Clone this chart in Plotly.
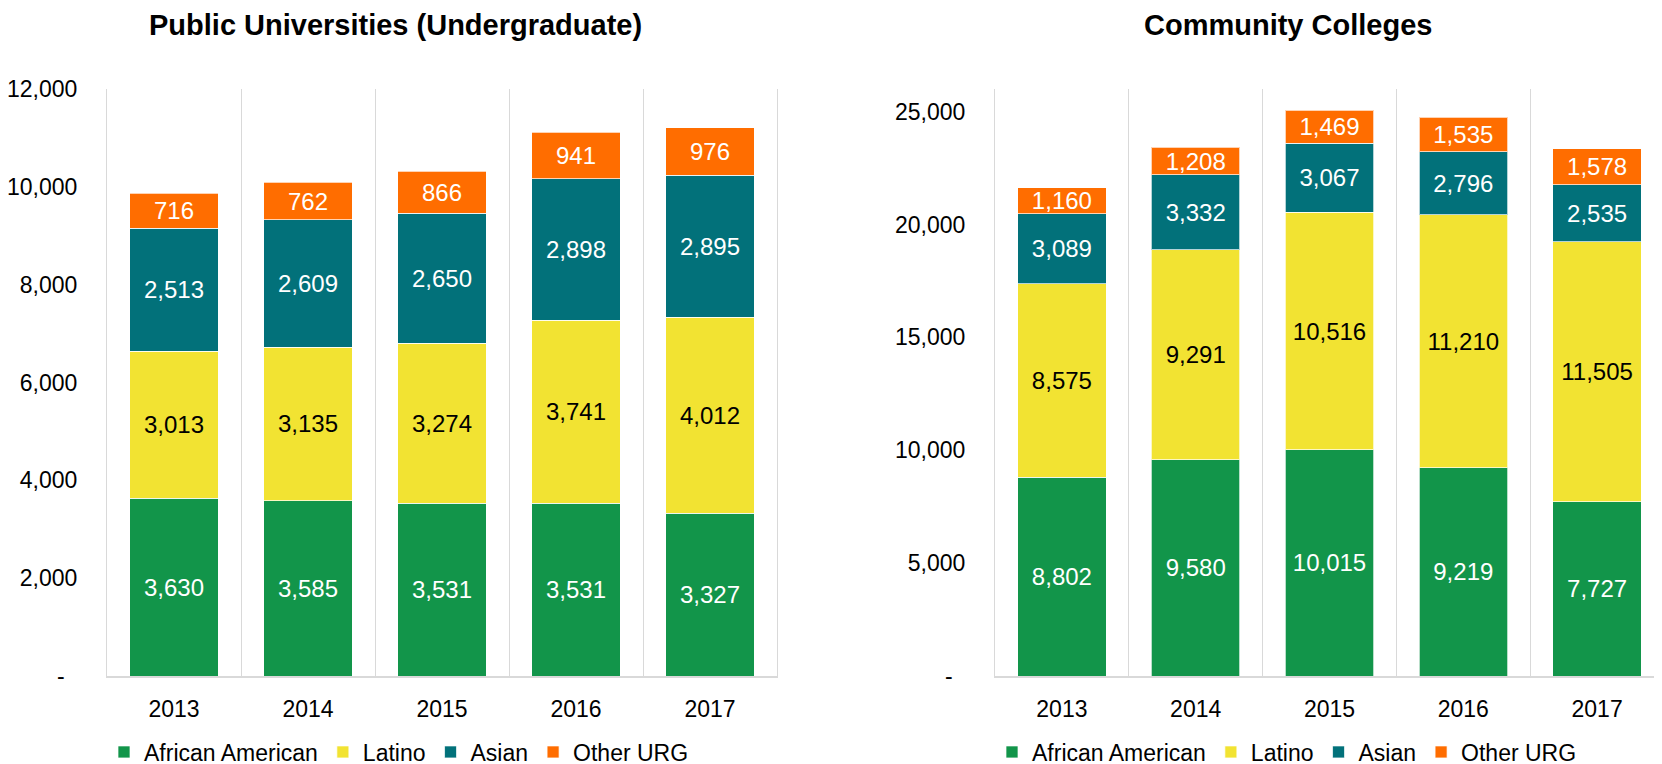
import plotly.graph_objects as go

years = ["2013", "2014", "2015", "2016", "2017"]
series_names = ["African American", "Latino", "Asian", "Other URG"]

pu_african_american = [3630, 3585, 3531, 3531, 3327]
pu_latino = [3013, 3135, 3274, 3741, 4012]
pu_asian = [2513, 2609, 2650, 2898, 2895]
pu_other_urg = [716, 762, 866, 941, 976]

cc_african_american = [8802, 9580, 10015, 9219, 7727]
cc_latino = [8575, 9291, 10516, 11210, 11505]
cc_asian = [3089, 3332, 3067, 2796, 2535]
cc_other_urg = [1160, 1208, 1469, 1535, 1578]

pu_ticks = [0, 2000, 4000, 6000, 8000, 10000, 12000]
cc_ticks = [0, 5000, 10000, 15000, 20000, 25000]

colors = ["#12954A", "#F2E332", "#02717A", "#FF6D00"]
text_colors = ["white", "black", "white", "white"]

W, H = 1662, 764
OFF = 8  # page body margin offset
FONT = "Arial, Liberation Sans, sans-serif"


def px(x):
    return (x - OFF) / W


def py(y):
    return (H - (y - OFF)) / H


def tick_text(vals):
    return ["-\u00a0\u00a0" if v == 0 else f"{v:,}" for v in vals]


fig = go.Figure()

pu_series = [pu_african_american, pu_latino, pu_asian, pu_other_urg]
cc_series = [cc_african_american, cc_latino, cc_asian, cc_other_urg]

for i, (name, vals) in enumerate(zip(series_names, pu_series)):
    fig.add_trace(go.Bar(
        x=years, y=vals, name=name, xaxis="x", yaxis="y", legend="legend",
        marker=dict(color=colors[i], line=dict(color="rgba(255,255,255,0.7)", width=1)),
        texttemplate="%{y:,}", textposition="inside", insidetextanchor="middle",
        constraintext="none",
        textfont=dict(color=text_colors[i], size=24, family=FONT),
        hoverinfo="skip",
    ))

for i, (name, vals) in enumerate(zip(series_names, cc_series)):
    fig.add_trace(go.Bar(
        x=years, y=vals, name=name, xaxis="x2", yaxis="y2", legend="legend2",
        marker=dict(color=colors[i], line=dict(color="rgba(255,255,255,0.7)", width=1)),
        texttemplate="%{y:,}", textposition="inside", insidetextanchor="middle",
        constraintext="none",
        textfont=dict(color=text_colors[i], size=24, family=FONT),
        hoverinfo="skip",
    ))

y_dom = [py(676), py(89)]
grid = "#D9D9D9"

xaxis_common = dict(
    type="category", tickson="boundaries", showgrid=True, gridcolor=grid, gridwidth=1,
    showline=True, linecolor=grid, linewidth=2, ticks="", ticklabelstandoff=11,
    tickfont=dict(size=23, family=FONT, color="black"), fixedrange=True,
)
yaxis_common = dict(
    showgrid=False, zeroline=False, showline=True, linecolor=grid, linewidth=1, mirror=True,
    ticks="", ticklabelstandoff=24, tickfont=dict(size=23, family=FONT, color="black"),
    fixedrange=True,
)

fig.update_layout(
    width=W, height=H,
    margin=dict(l=0, r=0, t=0, b=0, autoexpand=False),
    paper_bgcolor="white", plot_bgcolor="white",
    barmode="stack", bargap=0.338,
    font=dict(family=FONT, size=23, color="black"),
    xaxis=dict(domain=[px(107), px(777)], anchor="y", range=[-0.5, 4.5], **xaxis_common),
    yaxis=dict(domain=y_dom, anchor="x", range=[0, 12000], tickvals=pu_ticks,
               ticktext=tick_text(pu_ticks), **yaxis_common),
    xaxis2=dict(domain=[px(995), px(1664)], anchor="y2", range=[-0.5, 4.5], **xaxis_common),
    yaxis2=dict(domain=y_dom, anchor="x2", range=[0, 26000], tickvals=cc_ticks,
                ticktext=tick_text(cc_ticks), **yaxis_common),
    legend=dict(orientation="h", x=px(104), xanchor="left", y=py(752), yanchor="middle",
                traceorder="normal", font=dict(size=23, family=FONT), itemclick=False,
                bgcolor="rgba(0,0,0,0)"),
    legend2=dict(orientation="h", x=px(992), xanchor="left", y=py(752), yanchor="middle",
                 traceorder="normal", font=dict(size=23, family=FONT), itemclick=False,
                 bgcolor="rgba(0,0,0,0)"),
    annotations=[
        dict(text="<b>Public Universities (Undergraduate)</b>", x=px(395), y=py(25),
             xref="paper", yref="paper", xanchor="center", yanchor="middle", showarrow=False,
             font=dict(size=29, family=FONT, color="black")),
        dict(text="<b>Community Colleges</b>", x=px(1288), y=py(25),
             xref="paper", yref="paper", xanchor="center", yanchor="middle", showarrow=False,
             font=dict(size=29, family=FONT, color="black")),
    ],
    showlegend=True,
)

fig.write_html("out.html")
